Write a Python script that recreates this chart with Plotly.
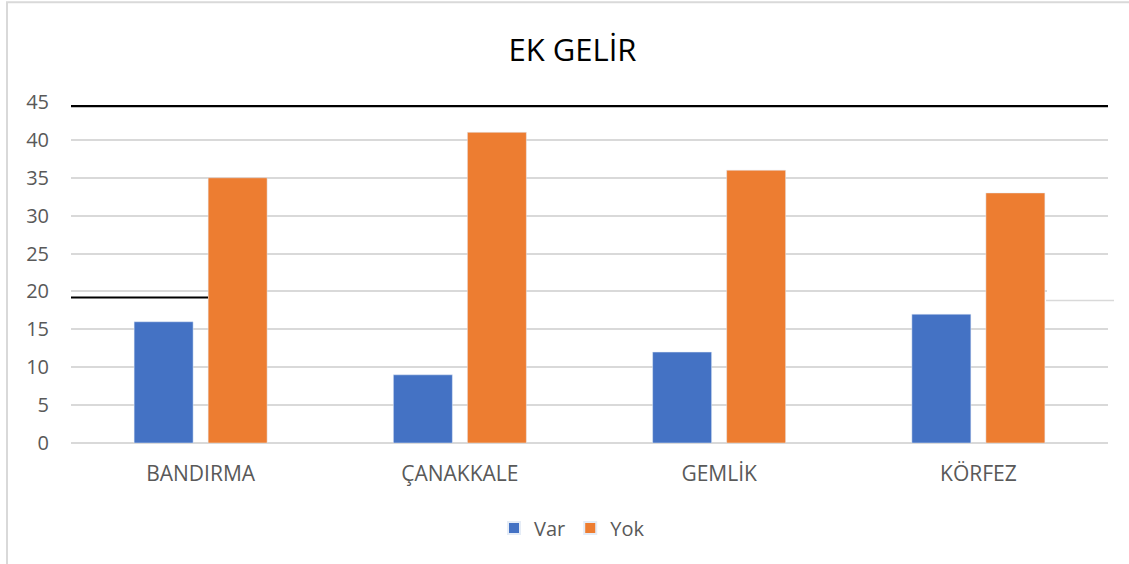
import plotly.graph_objects as go

categories = ["BANDIRMA", "ÇANAKKALE", "GEMLİK", "KÖRFEZ"]
var_values = [16, 9, 12, 17]
yok_values = [35, 41, 36, 33]
y_ticks = [0, 5, 10, 15, 20, 25, 30, 35, 40, 45]

W, H = 1129, 564
L, R, T, B = 71, 21, 102.4, 121.4
pw = W - L - R
ph = H - T - B

def px_x(x):
    return (x - L) / pw

def px_y(y):
    return (H - B - y) / ph

FONT = "Open Sans"
GRAY = "#595959"

fig = go.Figure()
fig.add_trace(go.Bar(name="Var", x=categories, y=var_values, marker_color="#4472C4"))
fig.add_trace(go.Bar(name="Yok", x=categories, y=yok_values, marker_color="#ED7D31"))

fig.update_layout(
    width=W, height=H,
    margin=dict(l=L, r=R, t=T, b=B, autoexpand=False),
    paper_bgcolor="white", plot_bgcolor="white",
    barmode="group", bargap=0.429, bargroupgap=0.203,
    title=dict(text="EK GELİR", font=dict(family=FONT, size=31, color="#000000"),
               x=572.5 / W, xref="container", xanchor="center",
               y=1 - 50 / H, yref="container", yanchor="middle"),
    legend=dict(orientation="h", font=dict(family=FONT, size=20, color=GRAY),
                x=572 / W, xref="container", xanchor="center",
                y=1 - 528 / H, yref="container", yanchor="middle",
                itemsizing="constant", traceorder="normal", itemwidth=30),
    showlegend=True,
)
fig.update_yaxes(range=[0, 45], tickvals=y_ticks, showgrid=True, gridcolor="#d9d9d9",
                 gridwidth=1.5, zeroline=True, zerolinecolor="#d9d9d9", zerolinewidth=1.5,
                 showline=False, ticks="", ticklabelstandoff=21,
                 tickfont=dict(family=FONT, size=20, color=GRAY), fixedrange=True)
fig.update_xaxes(showgrid=False, showline=False, ticks="", ticklabelstandoff=16,
                 tickfont=dict(family=FONT, size=21, color=GRAY))

# decorative lines and chart border as seen in the reference
shapes = [
    dict(type="line", xref="paper", yref="y", x0=0, x1=1, y0=44.45, y1=44.45,
         line=dict(color="black", width=2.2)),
    dict(type="line", xref="paper", yref="y", x0=0, x1=px_x(208), y0=19.2, y1=19.2,
         line=dict(color="black", width=2)),
    # displaced gridline fragment at the right edge
    dict(type="line", xref="paper", yref="y", x0=px_x(1047), x1=px_x(1110), y0=20, y1=20,
         line=dict(color="white", width=3), layer="above"),
    dict(type="line", xref="paper", yref="y", x0=px_x(1046), x1=px_x(1114), y0=18.8, y1=18.8,
         line=dict(color="#d9d9d9", width=1.5)),
    dict(type="rect", xref="paper", yref="paper", x0=px_x(7), x1=px_x(1140),
         y0=px_y(575), y1=px_y(3), line=dict(color="#d9d9d9", width=2)),
]
fig.update_layout(shapes=shapes)

fig.write_html("out.html", config={"displayModeBar": False},
               post_script="document.body.style.margin='0';document.body.style.overflow='hidden';")
